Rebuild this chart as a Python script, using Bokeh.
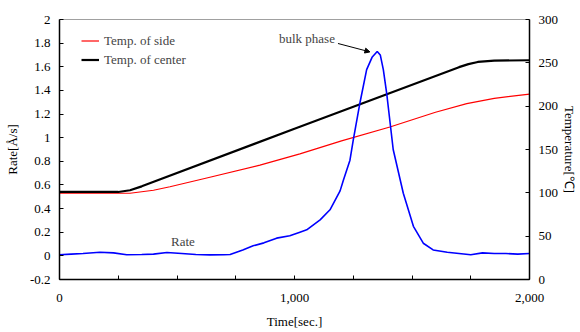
from bokeh.plotting import figure
from bokeh.models import (Range1d, LinearAxis, FixedTicker, CustomJSTickFormatter,
                          NumeralTickFormatter, Legend, LegendItem, Label, Arrow, NormalHead)
from bokeh.embed import file_html
from bokeh.resources import INLINE

# ---- data ----
center_t = [0, 250, 300, 350, 1000, 1700, 1740, 1780, 1850, 2000]
center_T = [101, 101, 103, 107.5, 174, 245, 248.5, 251, 252.5, 253]

side_t = [0, 300, 400, 470, 640, 853, 1023, 1200, 1406, 1600, 1733, 1850, 2000]
side_T = [99.5, 99.5, 103, 107, 118, 132, 145, 160, 176, 193, 203, 209, 214]

rate_t = [0, 50, 100, 172, 230, 286, 350, 400, 457, 520, 580, 640, 700, 726, 780, 824,
          870, 924, 980, 1023, 1052, 1109, 1151, 1194, 1208, 1236, 1250, 1279, 1307, 1330,
          1352, 1365, 1378, 1392, 1420, 1463, 1506, 1548, 1590, 1650, 1700, 1750, 1800,
          1850, 1900, 1950, 2000]
rate_v = [0.01, 0.015, 0.02, 0.03, 0.025, 0.01, 0.012, 0.015, 0.028, 0.02, 0.012, 0.008,
          0.01, 0.012, 0.05, 0.085, 0.11, 0.15, 0.17, 0.2, 0.22, 0.305, 0.39, 0.55, 0.64,
          0.81, 0.98, 1.3, 1.576, 1.68, 1.73, 1.7, 1.576, 1.38, 0.9, 0.53, 0.25, 0.107,
          0.05, 0.03, 0.02, 0.01, 0.025, 0.02, 0.02, 0.015, 0.02]

rate_ticks = [-0.2, 0, 0.2, 0.4, 0.6, 0.8, 1.0, 1.2, 1.4, 1.6, 1.8, 2.0]
temp_ticks = [0, 50, 100, 150, 200, 250, 300]
time_major = [0, 1000, 2000]
time_minor = [250, 500, 750, 1250, 1500, 1750]

FONT = "Liberation Serif"
FS = "13px"

p = figure(frame_width=470, frame_height=260, output_backend="svg", toolbar_location=None,
           x_range=Range1d(0, 2000), y_range=Range1d(-0.2, 2.0),
           min_border_left=59, min_border_right=43, min_border_top=19, min_border_bottom=45)
p.xgrid.visible = False
p.ygrid.visible = False
p.outline_line_color = "#a0a0a0"
p.outline_line_width = 1
p.extra_y_ranges = {"temp": Range1d(0, 300)}

def style_axis(ax):
    ax.axis_line_color = "black"
    ax.axis_line_width = 1.5
    ax.major_tick_in = 4
    ax.major_tick_out = 0
    ax.minor_tick_in = 0
    ax.minor_tick_out = 0
    ax.major_tick_line_color = "black"
    ax.major_label_text_font = FONT
    ax.major_label_text_font_size = FS
    ax.major_label_text_color = "black"
    ax.axis_label_text_font = FONT
    ax.axis_label_text_font_size = FS
    ax.axis_label_text_font_style = "normal"
    ax.axis_label_text_color = "black"

# left axis
ya = p.yaxis[0]
ya.ticker = FixedTicker(ticks=rate_ticks)
ya.formatter = CustomJSTickFormatter(code="return String(Math.round(tick*10)/10);")
ya.axis_label = "Rate[Å/s]"
style_axis(ya)
ya.major_label_standoff = 9
ya.axis_label_standoff = 7

# bottom axis
xa = p.xaxis[0]
xa.ticker = FixedTicker(ticks=time_major, minor_ticks=time_minor)
xa.formatter = NumeralTickFormatter(format="0,0")
xa.axis_label = "Time[sec.]"
style_axis(xa)
xa.minor_tick_in = 4
xa.minor_tick_line_color = "black"
xa.major_label_standoff = 14
xa.axis_label_standoff = 9

# right axis
ra = LinearAxis(y_range_name="temp", ticker=FixedTicker(ticks=temp_ticks),
                axis_label="Temperature[℃]")
style_axis(ra)
ra.major_label_standoff = 9
ra.axis_label_standoff = 1
p.add_layout(ra, "right")

r_side = p.line(side_t, side_T, y_range_name="temp", line_color="#ff0000", line_width=1.2)
r_center = p.line(center_t, center_T, y_range_name="temp", line_color="black", line_width=2.2)
p.line(rate_t, rate_v, line_color="#0000ff", line_width=1.6)

legend = Legend(items=[LegendItem(label="Temp. of side", renderers=[r_side]),
                       LegendItem(label="Temp. of center", renderers=[r_center])],
                location=(22, 210), margin=0, padding=0, spacing=0,
                label_text_font=FONT, label_text_font_size=FS,
                glyph_width=18, glyph_height=19, label_height=19, label_standoff=5,
                border_line_color=None, background_fill_alpha=0)
p.add_layout(legend, "center")

p.add_layout(Label(x=525, y=0.12, text="Rate", text_font=FONT, text_font_size=FS,
                   text_align="center", text_baseline="middle"))
p.add_layout(Label(x=934, y=1.84, text="bulk phase", text_font=FONT, text_font_size=FS,
                   text_align="left", text_baseline="middle"))
p.add_layout(Arrow(x_start=1185, y_start=1.797, x_end=1321, y_end=1.726,
                   line_color="black", line_width=1,
                   end=NormalHead(size=5, fill_color="black", line_color="black")))

open("out.html", "w").write(file_html(p, INLINE))
